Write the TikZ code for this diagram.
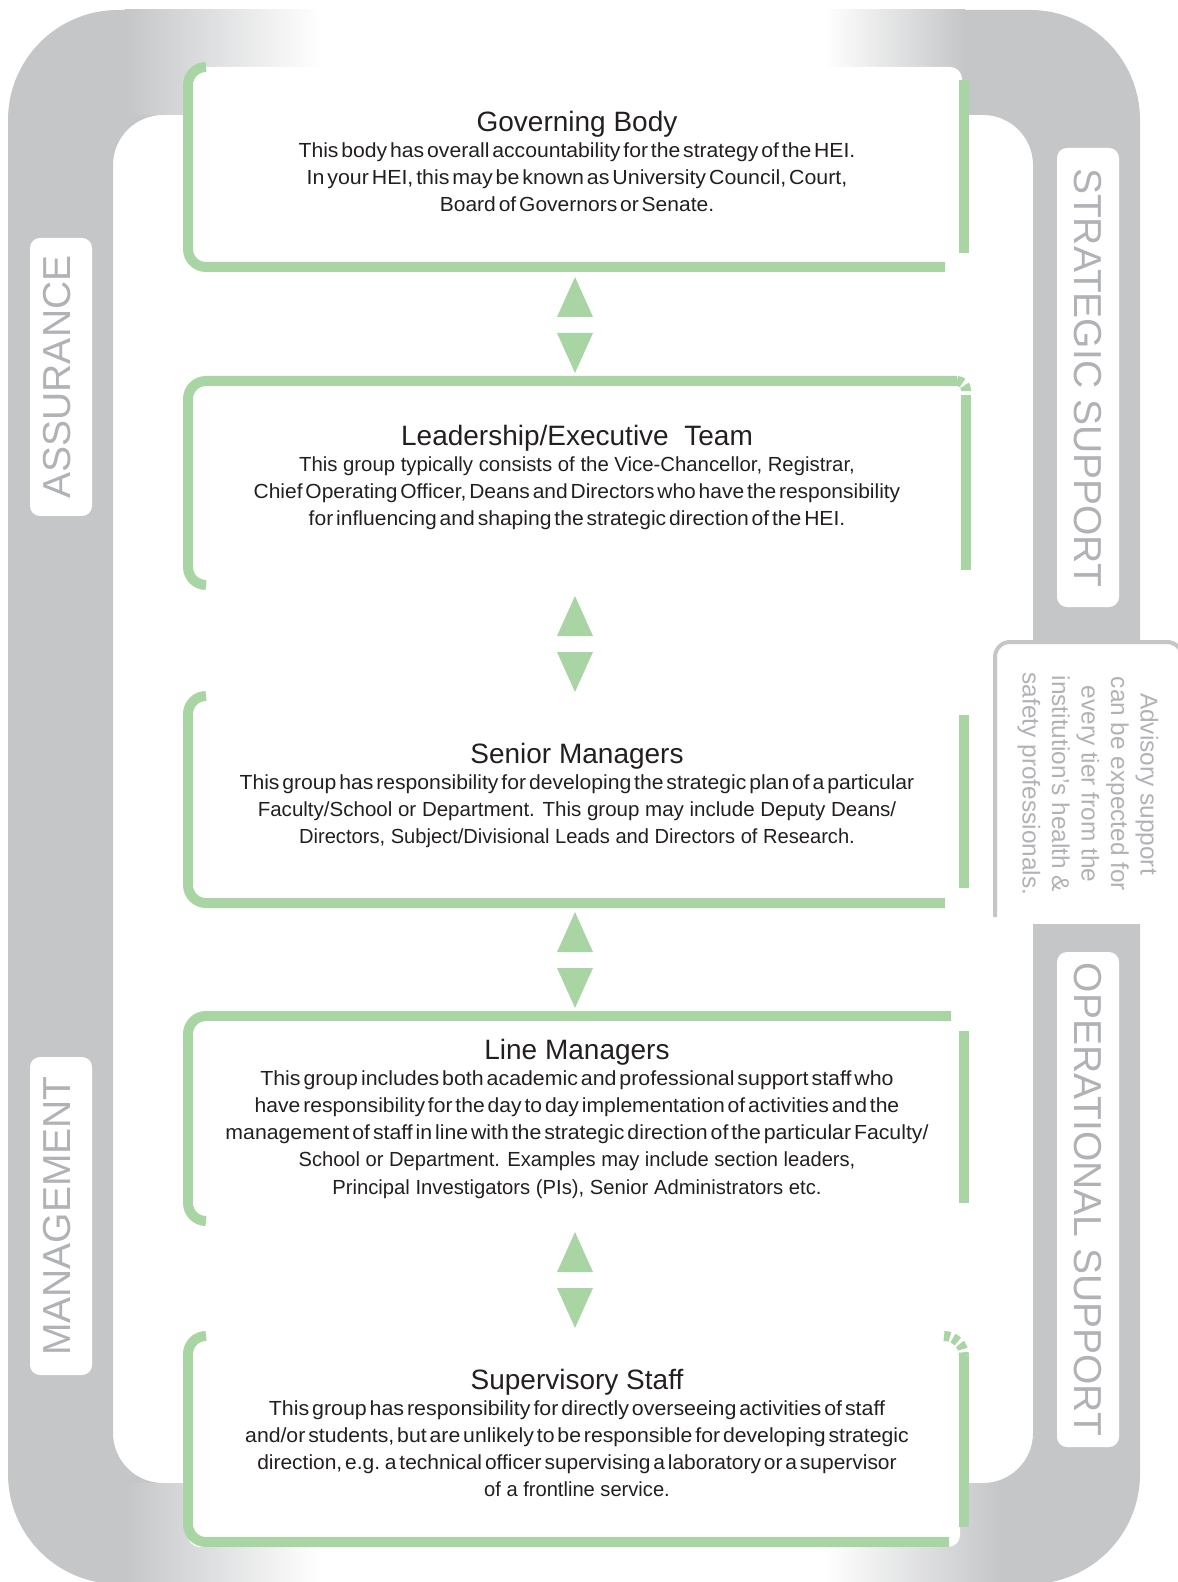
\documentclass[tikz,border=0pt]{standalone}
\usepackage{fontspec}
\setmainfont{Liberation Sans}
\usepackage{graphicx}
\usetikzlibrary{positioning}

\definecolor{bandgray}{RGB}{197,198,200}
\definecolor{labelgray}{RGB}{176,178,181}
\definecolor{tiergreen}{RGB}{169,213,165}
\definecolor{inkgray}{RGB}{35,31,32}

\newcommand{\plainln}[2]{\resizebox{#1pt}{\height}{#2}}
\newcommand{\tightln}[2]{\resizebox{#1pt}{\height}{\spaceskip=1.4pt\relax #2}}
\newcommand{\tiertitle}[1]{{\fontsize{14}{16}\selectfont #1}\\[-0.8pt]}

\tikzset{
  tierline/.style={draw=tiergreen, line width=5pt, rounded corners=9pt},
  tierbar/.style={draw=tiergreen, line width=5pt},
  tierdash/.style={draw=tiergreen, line width=5pt, dash pattern=on 3pt off 1.6pt},
  tiertext/.style={anchor=north, align=center, inner sep=0pt, text=inkgray, font=\fontsize{10.2}{13.6}\selectfont},
  labelbox/.style={fill=white, rounded corners=5pt, inner sep=0pt, minimum height=31pt, text=labelgray, font=\fontsize{19.5}{20}\selectfont},
  advtext/.style={align=center, inner sep=0pt, text=labelgray, font=\fontsize{12.2}{14.75}\selectfont},
  updown/.pic={
    \fill[tiergreen] (-18,-8) -- (18,-8) -- (0,-48) -- cycle;
    \fill[tiergreen] (-18,8) -- (18,8) -- (0,48) -- cycle;
  }
}

\begin{document}
\begin{tikzpicture}[x=0.5pt,y=0.5pt,yscale=-1,xscale=1]
		\useasboundingbox (0,0) rectangle (1177,1582);

		%Shape: Band [id:outer ring]
		\fill[bandgray, even odd rule, rounded corners=55pt] (8,10) rectangle (1140,1584) [rounded corners=25pt] (113,115) rectangle (1033,1483);
		%Shape: Fades on the top and bottom of the band
		\shade[left color=bandgray, right color=white] (125,10) rectangle (321,115);
		\fill[white] (320,6) rectangle (826,118);
		\shade[left color=white, right color=bandgray] (825,10) rectangle (965,115);
		\shade[left color=bandgray, right color=white] (125,1483) rectangle (321,1584);
		\fill[white] (320,1480) rectangle (826,1586);
		\shade[left color=white, right color=bandgray] (825,1483) rectangle (1000,1584);

		%Shape: Advisory box
		\fill[white] (995,640) rectangle (1177,924);
		\draw[draw=bandgray, line width=2pt, rounded corners=7.5pt] (995,917) -- (995,642) -- (1182,642) -- (1182,700);

		% Text Node
		\node[labelbox, rotate=90, minimum width=139pt, text depth=4.5pt] (assur) at (61,377) {ASSURANCE};
		% Text Node
		\node[labelbox, rotate=90, minimum width=159pt, text depth=4.5pt] (mgmt) at (61,1216) {MANAGEMENT};
		% Text Node
		\node[labelbox, rotate=-90, minimum width=229.5pt] (strat) at (1088,377.5) {STRATEGIC SUPPORT};
		% Text Node
		\node[labelbox, rotate=-90, minimum width=247.5pt] (oper) at (1088,1199.5) {OPERATIONAL SUPPORT};
		% Text Node
		\node[advtext, rotate=-90] (advice) at (1088,784) {Advisory support\\can be expected for\\every tier from the\\institution's health \&\\safety professionals.};

		%Shape: Governing Body frame
		\fill[white, rounded corners=6pt] (188,67) rectangle (962,272);
		\draw[tierline] (206,67) -- (188,67) -- (188,267) -- (945,267);
		\draw[tierbar] (964,80) -- (964,253);
		%Shape: Leadership frame
		\draw[tierline] (957,381) -- (188,381) -- (188,585) -- (206,585);
		\draw[tierdash, rounded corners=4.5pt] (957,381) -- (966,381) -- (966,393);
		\draw[tierbar] (966,395) -- (966,570);
		%Shape: Senior Managers frame
		\draw[tierline] (206,696) -- (188,696) -- (188,903) -- (945,903);
		\draw[tierbar] (964,715) -- (964,888);
		%Shape: Line Managers frame
		\draw[tierline] (951,1016) -- (188,1016) -- (188,1221) -- (206,1221);
		\draw[tierbar] (964,1031) -- (964,1203);
		%Shape: Supervisory Staff frame
		\fill[white, rounded corners=6pt] (188,1336) rectangle (960,1547);
		\draw[tierline] (206,1336) -- (188,1336) -- (188,1542) -- (949,1542);
		\draw[tierdash, rounded corners=10pt] (944,1336) -- (964,1336) -- (964,1356);
		\draw[tierbar] (964,1356) -- (964,1527);

		%Shape: Up and down triangles
		\pic at (575,325) {updown};
		\pic at (575,644) {updown};
		\pic at (575,960) {updown};
		\pic at (575,1280) {updown};

		% Text Node
		\node[tiertext] (gov) at (577,111) {\tiertitle{Governing Body}\tightln{278.4}{This body has overall accountability for the strategy of the HEI.}\\ \tightln{270.3}{In your HEI, this may be known as University Council, Court,}\\ \tightln{137.2}{Board of Governors or Senate.}};
		% Text Node
		\node[tiertext] (lead) at (577,425) {\tiertitle{Leadership/Executive\ \ Team}\plainln{277.9}{This group typically consists of the Vice-Chancellor, Registrar,}\\ \tightln{323.3}{Chief Operating Officer, Deans and Directors who have the responsibility}\\ \tightln{268.3}{for influencing and shaping the strategic direction of the HEI.}};
		% Text Node
		\node[tiertext] (senior) at (577,743) {\tiertitle{Senior Managers}\tightln{337.4}{This group has responsibility for developing the strategic plan of a particular}\\ \plainln{319.2}{Faculty/School or Department. This group may include Deputy Deans/}\\ \plainln{277.9}{Directors, Subject/Divisional Leads and Directors of Research.}};
		% Text Node
		\node[tiertext] (linemgr) at (577,1039) {\tiertitle{Line Managers}\tightln{316.7}{This group includes both academic and professional support staff who}\\ \tightln{322.3}{have responsibility for the day to day implementation of activities and the}\\ \tightln{351.5}{management of staff in line with the strategic direction of the particular Faculty/}\\ \plainln{278.4}{School or Department. Examples may include section leaders,}\\ \plainln{244.6}{Principal Investigators (PIs), Senior Administrators etc.}};
		% Text Node
		\node[tiertext] (superv) at (577,1369) {\tiertitle{Supervisory Staff}\tightln{308.1}{This group has responsibility for directly overseeing activities of staff}\\ \tightln{331.8}{and/or students, but are unlikely to be responsible for developing strategic}\\ \tightln{319.7}{direction, e.g. a technical officer supervising a laboratory or a supervisor}\\ \plainln{92.8}{of a frontline service.}};

\end{tikzpicture}
\end{document}
